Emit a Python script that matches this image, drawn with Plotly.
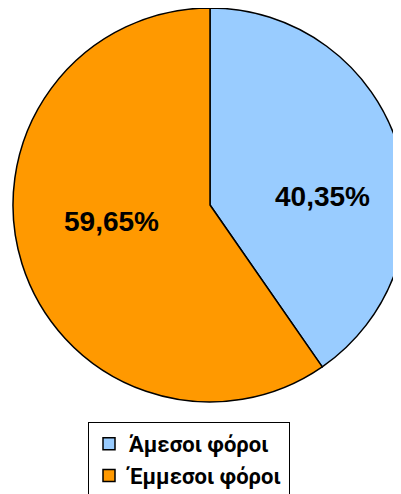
import plotly.graph_objects as go

labels = ["Άμεσοι φόροι", "Έμμεσοι φόροι"]
values = [40.35, 59.65]
colors = ["#99CCFF", "#FF9900"]

# page body adds an 8px offset; figure coordinates below are pre-compensated
OFF = 8
label_pos = [(322, 196), (111, 222)]  # screen pixel centres of slice labels

W, H = 399, 494
ML, MR, MT, MB = 5, 0, 0, 100
pw, ph = W - ML - MR, H - MT - MB

total = sum(values)
texts = [f"{v / total * 100:.2f}%".replace(".", ",") for v in values]

fig = go.Figure(go.Pie(
    labels=labels,
    values=values,
    sort=False,
    direction="clockwise",
    rotation=0,
    marker=dict(colors=colors, line=dict(color="black", width=1.5)),
    textinfo="none",
    domain=dict(x=[0, 1], y=[0, 1]),
))

for t, (px, py) in zip(texts, label_pos):
    fig.add_annotation(
        x=(px - OFF - ML) / pw, y=(MT + ph - (py - OFF)) / ph,
        xref="paper", yref="paper", xanchor="center", yanchor="middle",
        text=f"<b>{t}</b>", showarrow=False,
        font=dict(family="Liberation Sans", size=28, color="black"),
    )

fig.update_layout(
    width=W, height=H,
    separators=",.",
    margin=dict(l=ML, r=MR, t=MT, b=MB, autoexpand=False),
    paper_bgcolor="white",
    showlegend=True,
    legend=dict(
        x=(88 - OFF - ML) / pw, xanchor="left",
        y=-((422 - OFF) - (MT + ph)) / ph, yanchor="top",
        bordercolor="black", borderwidth=1,
        font=dict(family="Roboto", size=22, color="black", weight="bold"),
        itemwidth=30,
        tracegroupgap=0,
    ),
)

fig.write_html("out.html")
